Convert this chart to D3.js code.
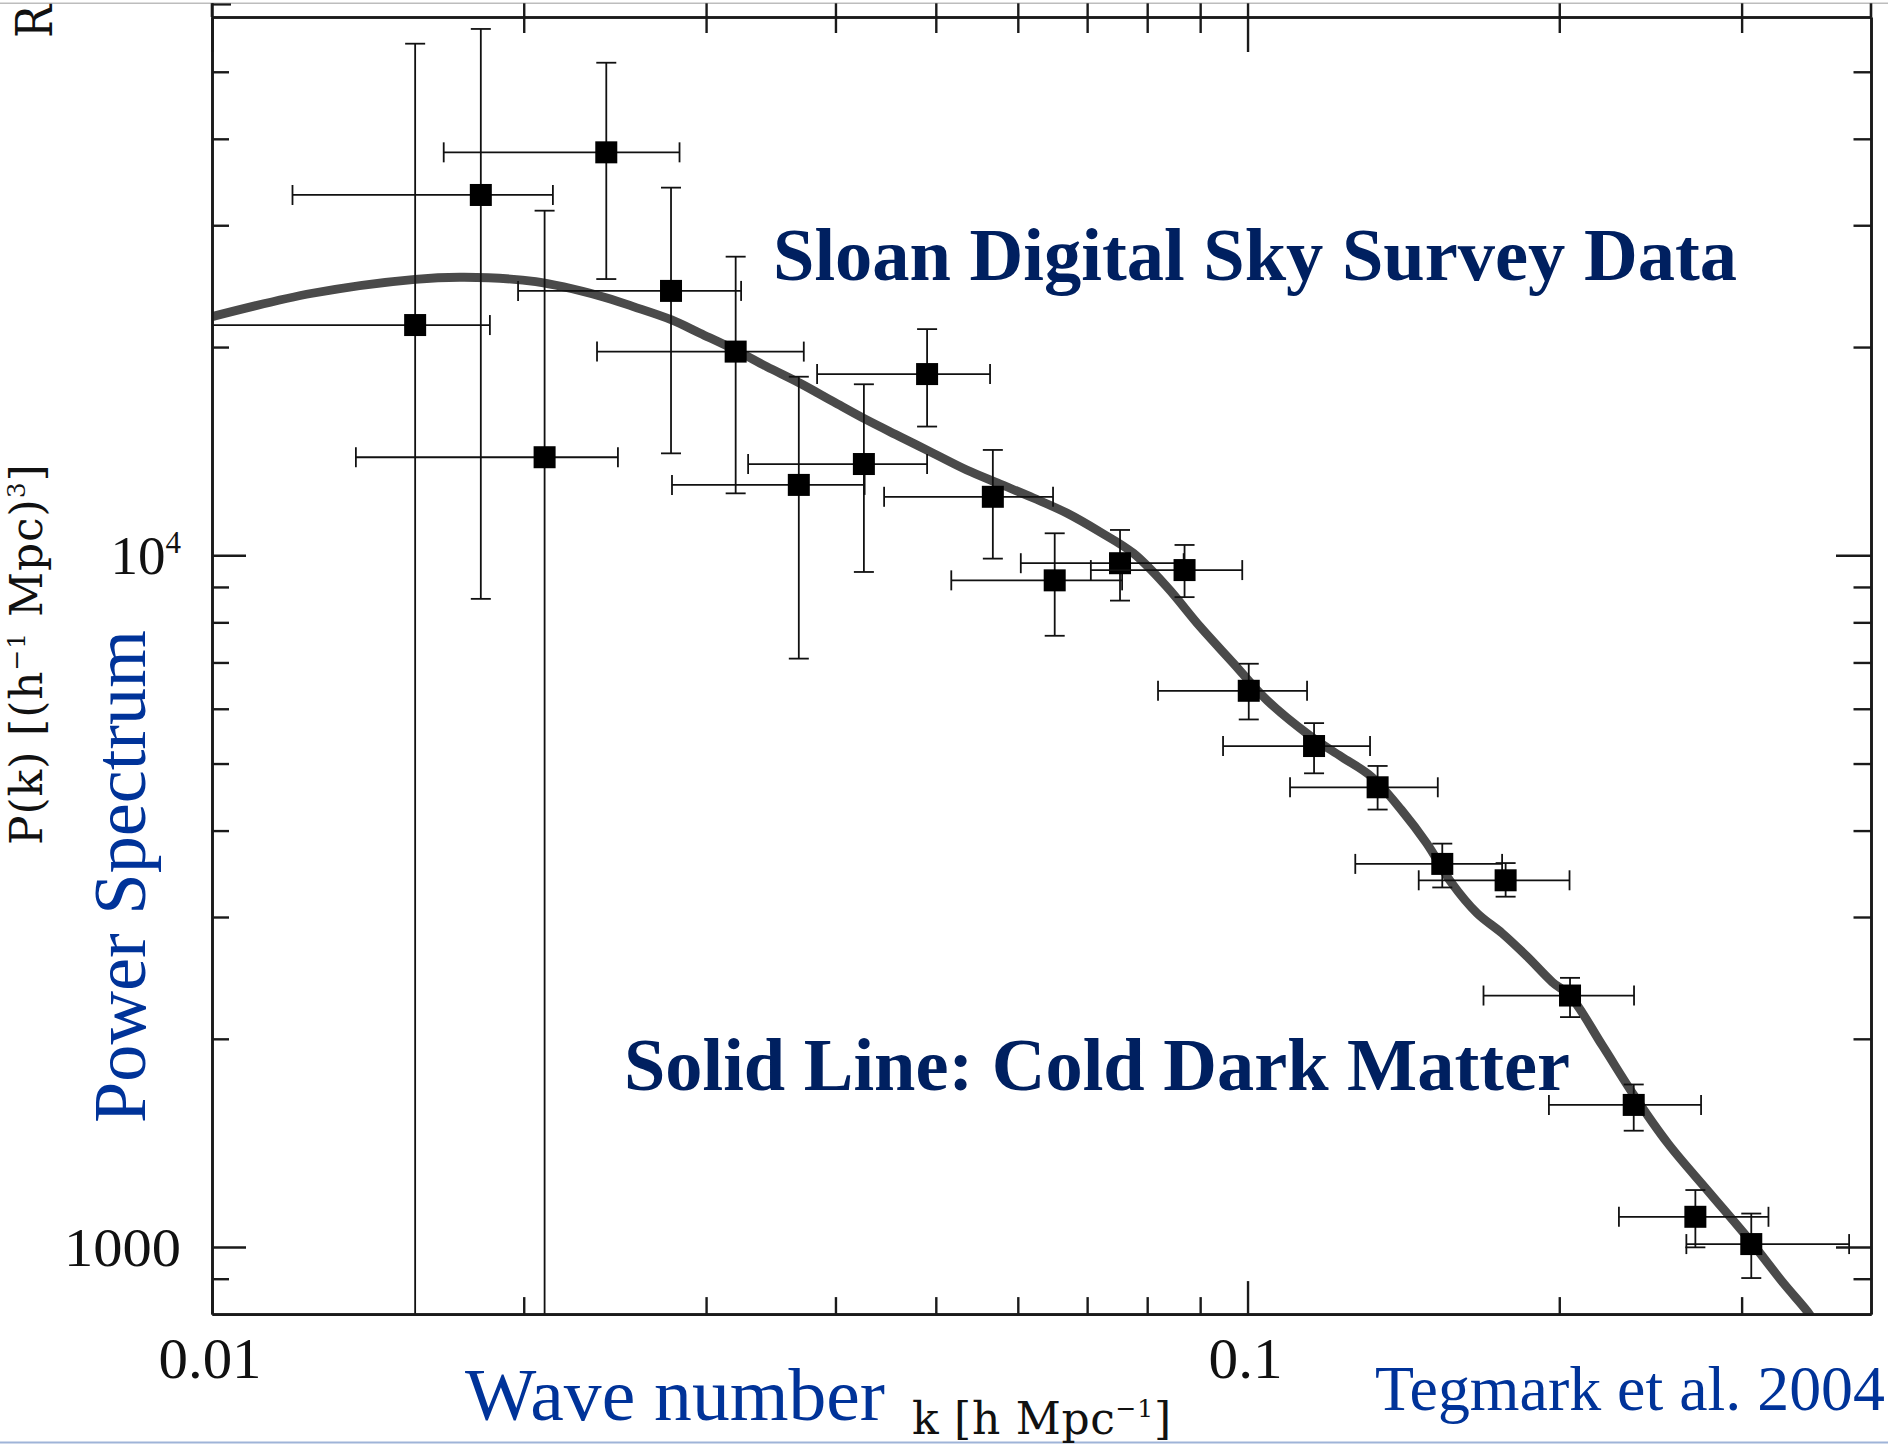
<!DOCTYPE html>
<html>
<head>
<meta charset="utf-8">
<script src="https://cdn.jsdelivr.net/npm/d3@7"></script>
<style>
  html, body { margin: 0; padding: 0; background: #fff; }
  svg { display: block; }
</style>
</head>
<body>
<svg id="chart" width="1888" height="1446"></svg>
<script>
// SDSS galaxy power spectrum band powers: centre k, P(k) and band / error ranges
const bandK   = [0.01571, 0.01818, 0.02095, 0.02403, 0.02775, 0.03204, 0.03687, 0.04261, 0.04904, 0.05676, 0.06513,
                 0.07531, 0.08693, 0.10027, 0.11594, 0.13354, 0.15419, 0.17751, 0.20484, 0.23601, 0.27068, 0.30651];
const bandP   = [21520, 33180, 13860, 38240, 24110, 19700, 12640, 13550, 18280, 12150, 9200,
                 9740, 9520, 6370, 5300, 4620, 3580, 3390, 2310, 1605, 1106, 1010];
const bandKLo = [0.0090, 0.01196, 0.01377, 0.01674, 0.01975, 0.02354, 0.02781, 0.03294, 0.03840, 0.04457, 0.05175,
                 0.06040, 0.07058, 0.08195, 0.09470, 0.10991, 0.12707, 0.14632, 0.16899, 0.19545, 0.22837, 0.26531];
const bandKHi = [0.01855, 0.02134, 0.02466, 0.02828, 0.03243, 0.03728, 0.04268, 0.04904, 0.05641, 0.06489, 0.07566,
                 0.08676, 0.09883, 0.11415, 0.13131, 0.15266, 0.17613, 0.20461, 0.23617, 0.27413, 0.31845, 0.38101];
const bandPLo = [600, 8650, 600, 25080, 14040, 12290, 7090, 9460, 15350, 9890, 7650,
                 8600, 8700, 5790, 4840, 4290, 3310, 3210, 2150, 1473, 999, 902];
const bandPHi = [54900, 57660, 31490, 51530, 34000, 27020, 18120, 17670, 21230, 14200, 10760,
                 10880, 10350, 6970, 5720, 4960, 3830, 3590, 2450, 1718, 1209, 1118];

// Cold dark matter model curve
const modelK = [0.0100, 0.01250, 0.01571, 0.01752, 0.02054, 0.02369, 0.02552, 0.02779, 0.02960, 0.03200, 0.03433,
                0.03697, 0.03981, 0.04288, 0.04618, 0.04973, 0.05356, 0.05768, 0.06212, 0.06690, 0.07205, 0.07759,
                0.08357, 0.08999, 0.09689, 0.10436, 0.11517, 0.12317, 0.13173, 0.14083, 0.14892, 0.15750, 0.16656,
                0.17613, 0.18624, 0.19697, 0.20491, 0.22025, 0.23601, 0.25474, 0.27924, 0.30597, 0.32916, 0.34898, 0.3560];
const modelP = [22130, 23920, 25060, 25230, 24860, 23710, 22880, 21890, 20940, 19810, 18740,
                17730, 16675, 15690, 14840, 14040, 13284, 12679, 12100, 11511, 10806, 10067,
                9007, 7886, 6983, 6177, 5469, 5115, 4785, 4282, 3834, 3357, 3039,
                2842, 2629, 2415, 2306, 1953, 1659, 1411, 1199, 1020, 887, 799, 760];

// Axis ticks and their labels
const yMajorTicks = [1000, 10000];
const yMinorTicks = [900, 2000, 3000, 4000, 5000, 6000, 7000, 8000, 9000, 20000, 30000, 40000, 50000];
const xMajorTicks = [0.01, 0.1];
const xMinorTicks = [0.02, 0.03, 0.04, 0.05, 0.06, 0.07, 0.08, 0.09, 0.2, 0.3];
const yLabelValues = [1000, 10000];
const yLabelBase   = ["1000", "10"];
const yLabelSup    = ["", "4"];
const xLabelValues = [0.01, 0.1];
const xLabelText   = ["0.01", "0.1"];

const svg = d3.select("#chart");
const W = 1888, H = 1446;
const plot = { left: 212, right: 1871, top: 17, bottom: 1314.1 };

const x = d3.scaleLog().domain([0.01, 0.4]).range([plot.left, plot.right]);
const y = d3.scaleLog().domain([800, 60000]).range([plot.bottom, plot.top]);

const serif = "'Liberation Serif', 'Times New Roman', serif";
const plotFont = "'DejaVu Serif', serif";
const ink = "#1a1a1a";

svg.append("rect").attr("width", W).attr("height", H).attr("fill", "#fff");

// thin page rules at the very top and bottom
svg.append("line").attr("x1", 0).attr("x2", W).attr("y1", 3.3).attr("y2", 3.3)
  .attr("stroke", "#bdbdbd").attr("stroke-width", 1.5);
svg.append("line").attr("x1", 0).attr("x2", W).attr("y1", 1442.6).attr("y2", 1442.6)
  .attr("stroke", "#9fb4d8").attr("stroke-width", 2);

svg.append("defs").append("clipPath").attr("id", "plotClip")
  .append("rect")
  .attr("x", plot.left).attr("y", plot.top)
  .attr("width", plot.right - plot.left).attr("height", plot.bottom - plot.top);

const inner = svg.append("g").attr("clip-path", "url(#plotClip)");

// model curve
const line = d3.line()
  .x((d) => x(d[0]))
  .y((d) => y(d[1]))
  .curve(d3.curveCatmullRom.alpha(0.5));

inner.append("path")
  .datum(modelK.map((k, i) => [k, modelP[i]]))
  .attr("d", line)
  .attr("fill", "none")
  .attr("stroke", "#4a4a4a")
  .attr("stroke-width", 8.8)
  .attr("stroke-linejoin", "round");

// band powers with error bars
const bands = bandK.map((k, i) => ({
  k, p: bandP[i], kLo: bandKLo[i], kHi: bandKHi[i], pLo: bandPLo[i], pHi: bandPHi[i]
}));

const capHalf = 10;
const barW = 1.8;
const pts = inner.selectAll("g.band").data(bands).join("g").attr("class", "band")
  .attr("stroke", "#111").attr("stroke-width", barW);

pts.append("line")
  .attr("x1", (d) => x(d.k)).attr("x2", (d) => x(d.k))
  .attr("y1", (d) => y(d.pLo)).attr("y2", (d) => y(d.pHi));
pts.append("line")
  .attr("x1", (d) => x(d.k) - capHalf).attr("x2", (d) => x(d.k) + capHalf)
  .attr("y1", (d) => y(d.pLo)).attr("y2", (d) => y(d.pLo));
pts.append("line")
  .attr("x1", (d) => x(d.k) - capHalf).attr("x2", (d) => x(d.k) + capHalf)
  .attr("y1", (d) => y(d.pHi)).attr("y2", (d) => y(d.pHi));

pts.append("line")
  .attr("x1", (d) => x(d.kLo)).attr("x2", (d) => x(d.kHi))
  .attr("y1", (d) => y(d.p)).attr("y2", (d) => y(d.p));
pts.append("line")
  .attr("x1", (d) => x(d.kLo)).attr("x2", (d) => x(d.kLo))
  .attr("y1", (d) => y(d.p) - capHalf).attr("y2", (d) => y(d.p) + capHalf);
pts.append("line")
  .attr("x1", (d) => x(d.kHi)).attr("x2", (d) => x(d.kHi))
  .attr("y1", (d) => y(d.p) - capHalf).attr("y2", (d) => y(d.p) + capHalf);

const sq = 22;
pts.append("rect")
  .attr("x", (d) => x(d.k) - sq / 2).attr("y", (d) => y(d.p) - sq / 2)
  .attr("width", sq).attr("height", sq)
  .attr("fill", "#000").attr("stroke", "none");

// axes: frame with inward ticks on all four sides
function styleAxis(g) {
  g.select(".domain").attr("stroke", ink).attr("stroke-width", 2.6);
  g.selectAll(".tick line").attr("stroke", ink).attr("stroke-width", 2.4);
  g.selectAll(".tick text").remove();
}

function drawAxis(axisFn, scale, transform, major, minor, majorLen, minorLen) {
  const gMinor = svg.append("g").attr("transform", transform)
    .call(axisFn(scale).tickValues(minor).tickSize(-minorLen).tickSizeOuter(0).tickFormat(""));
  styleAxis(gMinor);
  const gMajor = svg.append("g").attr("transform", transform)
    .call(axisFn(scale).tickValues(major).tickSize(-majorLen).tickSizeOuter(0).tickFormat(""));
  styleAxis(gMajor);
  return [gMinor, gMajor];
}

drawAxis(d3.axisLeft, y, `translate(${plot.left},0)`, yMajorTicks, yMinorTicks, 34, 17);
drawAxis(d3.axisRight, y, `translate(${plot.right},0)`, yMajorTicks, yMinorTicks, 35, 17.5);
drawAxis(d3.axisBottom, x, `translate(0,${plot.bottom})`, xMajorTicks, xMinorTicks, 33, 17);
const topAxes = drawAxis(d3.axisTop, x, `translate(0,${plot.top})`, xMajorTicks, xMinorTicks, 35, 16);
// top ticks also cross the frame line
topAxes.forEach((g) => g.selectAll(".tick line").attr("y1", 3.3 - plot.top));

// side frame lines continue up to the page rule
[plot.left, plot.right].forEach((px) => {
  svg.append("line").attr("x1", px).attr("x2", px).attr("y1", 3.3).attr("y2", plot.top)
    .attr("stroke", ink).attr("stroke-width", 2.6);
});
svg.append("line").attr("x1", plot.left).attr("x2", plot.left + 19).attr("y1", 4.5).attr("y2", 4.5)
  .attr("stroke", ink).attr("stroke-width", 2.2);

// tick labels
const yLab = svg.append("g").attr("font-family", serif).attr("fill", "#111").attr("text-anchor", "end");
yLabelValues.forEach((v, i) => {
  const t = yLab.append("text").attr("x", 181).attr("y", y(v) + 19).attr("font-size", 55);
  if (yLabelSup[i]) {
    t.append("tspan").text(yLabelBase[i]);
    t.append("tspan").attr("font-size", 31).attr("dy", -21).text(yLabelSup[i]);
  } else {
    t.attr("textLength", 117).attr("lengthAdjust", "spacingAndGlyphs").text(yLabelBase[i]);
  }
});

const xLabelWidth = [103, 74];
svg.append("g").attr("font-family", serif).attr("fill", "#111").attr("text-anchor", "middle")
  .selectAll("text").data(xLabelValues).join("text")
  .attr("x", (d) => x(d) - 2).attr("y", 1378)
  .attr("font-size", 56)
  .attr("textLength", (d, i) => xLabelWidth[i]).attr("lengthAdjust", "spacingAndGlyphs")
  .text((d, i) => xLabelText[i]);

// axis titles in the plot's own lettering
const pk = svg.append("text")
  .attr("transform", "translate(42,845) rotate(-90)")
  .attr("font-family", plotFont).attr("font-size", 44).attr("fill", "#111")
  .attr("letter-spacing", 0.9);
pk.append("tspan").text("P(k) [(h");
pk.append("tspan").attr("font-size", 25).attr("dy", -17).text("−1");
pk.append("tspan").attr("dy", 17).text(" Mpc)");
pk.append("tspan").attr("font-size", 25).attr("dy", -17).text("3");
pk.append("tspan").attr("dy", 17).text("]");

const kl = svg.append("text")
  .attr("x", 912).attr("y", 1434)
  .attr("font-family", plotFont).attr("font-size", 44).attr("fill", "#111")
  .attr("letter-spacing", 0.7);
kl.append("tspan").text("k [h Mpc");
kl.append("tspan").attr("font-size", 25).attr("dy", -17).text("−1");
kl.append("tspan").attr("dy", 17).text("]");

// leading letter of a rotated title running off the top edge
svg.append("text")
  .attr("transform", "translate(52,38) rotate(-90) scale(1,1.15)")
  .attr("font-family", plotFont).attr("font-size", 44).attr("fill", "#111")
  .text("R");

// slide annotations
svg.append("text")
  .attr("x", 773).attr("y", 280)
  .attr("font-family", serif).attr("font-weight", "bold").attr("font-size", 75)
  .attr("fill", "#002060")
  .attr("textLength", 964).attr("lengthAdjust", "spacingAndGlyphs")
  .text("Sloan Digital Sky Survey Data");

svg.append("text")
  .attr("x", 624).attr("y", 1090)
  .attr("font-family", serif).attr("font-weight", "bold").attr("font-size", 75)
  .attr("fill", "#002060")
  .attr("textLength", 946).attr("lengthAdjust", "spacingAndGlyphs")
  .text("Solid Line: Cold Dark Matter");

svg.append("text")
  .attr("transform", "translate(145,1123) rotate(-90)")
  .attr("font-family", serif).attr("font-size", 75).attr("fill", "#003399")
  .attr("textLength", 493).attr("lengthAdjust", "spacingAndGlyphs")
  .text("Power Spectrum");

svg.append("text")
  .attr("x", 465).attr("y", 1420)
  .attr("font-family", serif).attr("font-size", 75).attr("fill", "#003399")
  .attr("textLength", 420).attr("lengthAdjust", "spacingAndGlyphs")
  .text("Wave number");

svg.append("text")
  .attr("x", 1375).attr("y", 1410)
  .attr("font-family", serif).attr("font-size", 63).attr("fill", "#003399")
  .attr("textLength", 510).attr("lengthAdjust", "spacingAndGlyphs")
  .text("Tegmark et al. 2004");
</script>
</body>
</html>
